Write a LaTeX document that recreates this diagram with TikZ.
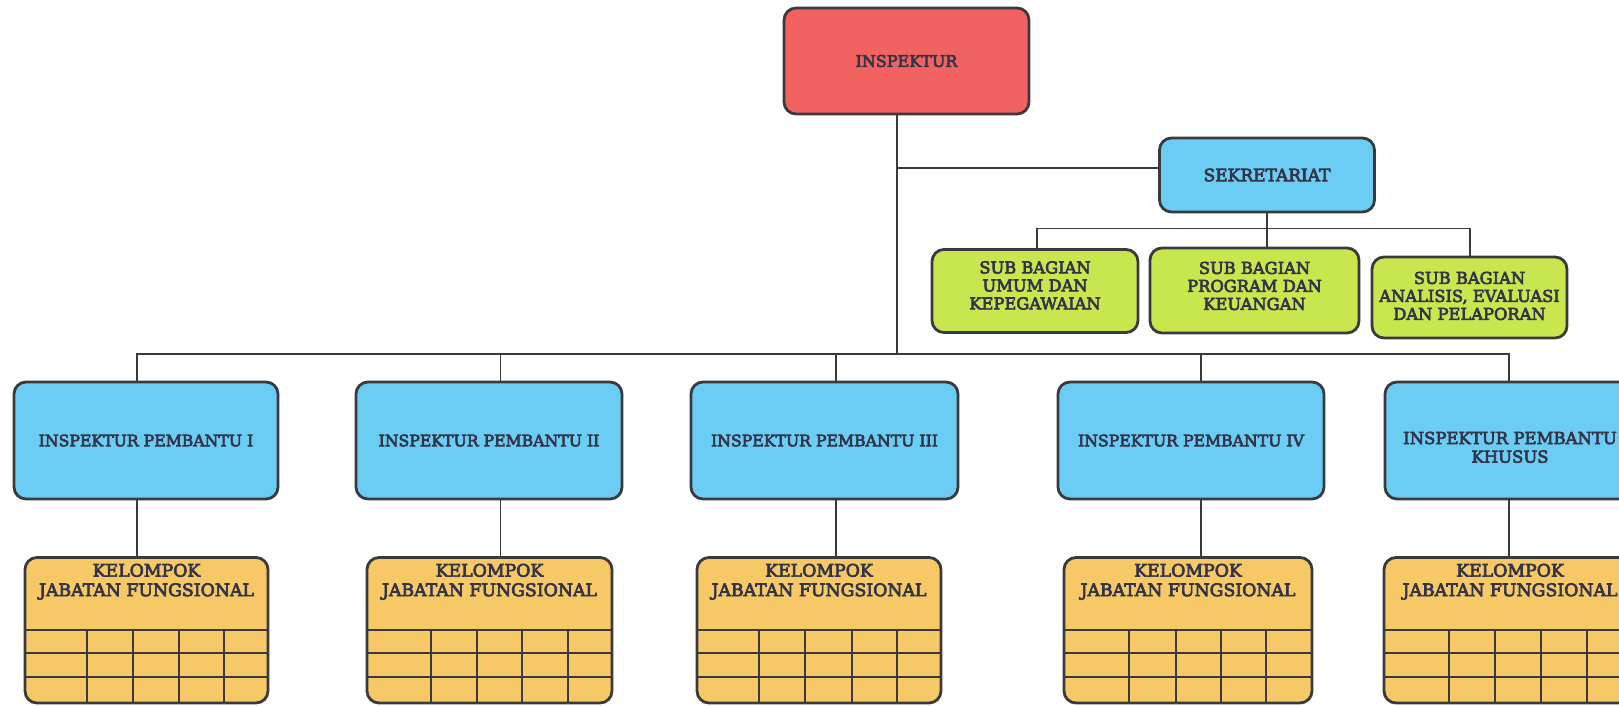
\documentclass[tikz,border=0pt]{standalone}
\usepackage{fontspec}
\setmainfont{DejaVu Serif}[FakeBold=4]
\definecolor{redbox}{RGB}{242,98,96}
\definecolor{bluebox}{RGB}{108,205,244}
\definecolor{greenbox}{RGB}{200,230,78}
\definecolor{orbox}{RGB}{246,201,102}
\definecolor{linec}{RGB}{58,58,62}
\definecolor{textc}{RGB}{52,52,72}
\newcommand\boxfont{\fontsize{16}{19}\selectfont}
\newcommand\gfont{\fontsize{16.3}{18}\selectfont}
\newcommand\pfont{\fontsize{15.7}{19}\selectfont}
\newcommand\sekfont{\fontsize{17}{20}\selectfont}
\newcommand\kfont{\fontsize{16.5}{18.6}\selectfont}
\newcommand\kgfont{\fontsize{17.3}{19.5}\selectfont}
\newcommand\mline[2]{\raisebox{#1}[0pt][0pt]{\begin{tabular}{@{}c@{}}#2\end{tabular}}}
\tikzset{
  box/.style={draw=linec, line width=2.8pt, rounded corners=12pt, text=textc,
    align=center, font=\boxfont, inner sep=0pt},
  redb/.style={box, fill=redbox},
  blueb/.style={box, fill=bluebox, font=\pfont, minimum height=117pt},
  greenb/.style={box, fill=greenbox, font=\gfont},
  orb/.style={box, fill=orbox, minimum height=145.5pt},
  ktxt/.style={text=textc, align=center, font=\kgfont, inner sep=0pt, anchor=north, yshift=-7.5pt},
  conn/.style={draw=linec, line width=1.6pt},
  gridl/.style={draw=linec, line width=2.8pt},
}
\begin{document}
\begin{tikzpicture}[x=1pt,y=-1pt]
\useasboundingbox (0,0) rectangle (1619,705);
\fill[white] (0,0) rectangle (1619,705);
\clip (0,0) rectangle (1619,705);

% top
\node[redb, minimum width=245pt, minimum height=106pt] (insp) at (906.5,61) {INSPEKTUR};
\node[blueb, font=\sekfont, minimum width=215pt, minimum height=74pt] (sek) at (1267,175) {SEKRETARIAT};

% green
\node[greenb, minimum width=206pt, minimum height=83pt] (g1) at (1035,291) {\mline{-1.1pt}{SUB BAGIAN\\UMUM DAN\\KEPEGAWAIAN}};
\node[greenb, minimum width=209pt, minimum height=85pt] (g2) at (1254.5,290.5) {\mline{-2.1pt}{SUB BAGIAN\\PROGRAM DAN\\KEUANGAN}};
\node[greenb, minimum width=195pt, minimum height=81pt] (g3) at (1469.5,297.5) {\mline{-5.1pt}{SUB BAGIAN\\ANALISIS, EVALUASI\\DAN PELAPORAN}};

% inspektur pembantu
\node[blueb, minimum width=264pt] (p1) at (146,440.5) {INSPEKTUR PEMBANTU I};
\node[blueb, minimum width=266pt] (p2) at (489,440.5) {INSPEKTUR PEMBANTU II};
\node[blueb, minimum width=267pt] (p3) at (824.5,440.5) {INSPEKTUR PEMBANTU III};
\node[blueb, minimum width=266pt] (p4) at (1191,440.5) {INSPEKTUR PEMBANTU IV};
\node[blueb, minimum width=250pt, font=\kfont] (p5) at (1510,440.5) {\mline{-13.4pt}{INSPEKTUR PEMBANTU\\KHUSUS}};

% kelompok
\node[orb, minimum width=243pt] (k1) at (146.5,630.25) {};
\node[orb, minimum width=245pt] (k2) at (489.5,630.25) {};
\node[orb, minimum width=244pt] (k3) at (819,630.25) {};
\node[orb, minimum width=248pt] (k4) at (1188,630.25) {};
\node[orb, minimum width=252pt] (k5) at (1510,630.25) {};

\foreach \k/\a/\b/\c/\d in {k1/87/133/179/224, k2/431/477/522/568, k3/759/805/852/897, k4/1129/1176/1221/1266, k5/1449/1495/1541/1587}{
  \foreach \yy in {630,653,677}
    \draw[gridl] (\k.west |- 0,\yy) -- (\k.east |- 0,\yy);
  \foreach \xx in {\a,\b,\c,\d}
    \draw[gridl] (\xx,630) -- (\xx,703);
}

\node[ktxt] (k1t) at (k1.north) {KELOMPOK\\JABATAN FUNGSIONAL};
\node[ktxt] (k2t) at (k2.north) {KELOMPOK\\JABATAN FUNGSIONAL};
\node[ktxt] (k3t) at (k3.north) {KELOMPOK\\JABATAN FUNGSIONAL};
\node[ktxt] (k4t) at (k4.north) {KELOMPOK\\JABATAN FUNGSIONAL};
\node[ktxt] (k5t) at (k5.north) {KELOMPOK\\JABATAN FUNGSIONAL};

% connectors
\coordinate (tr) at (897,354);
\coordinate (sj) at (897,168);
\coordinate (sb) at (1267,228.5);
\coordinate (a1) at (1037,228.5);
\coordinate (a3) at (1470,228.5);
\coordinate (b1) at (137,354);
\coordinate (b2) at (500.5,354);
\coordinate (b3) at (836,354);
\coordinate (b4) at (1201,354);
\coordinate (b5) at (1509,354);

\draw[conn] (tr |- insp.south) -- (tr);
\draw[conn] (sj) -- (sj -| sek.west);
\draw[conn] (sek.south) -- (sb |- g2.north);
\draw[conn] (a1 |- g1.north) -- (a1) -- (a3) -- (a3 |- g3.north);
\draw[conn] (b1 |- p1.north) -- (b1) -- (b5) -- (b5 |- p5.north);
\draw[conn] (b2) -- (b2 |- p2.north);
\draw[conn] (b3) -- (b3 |- p3.north);
\draw[conn] (b4) -- (b4 |- p4.north);
\draw[conn] (b1 |- p1.south) -- (b1 |- k1.north);
\draw[conn] (b2 |- p2.south) -- (b2 |- k2.north);
\draw[conn] (b3 |- p3.south) -- (b3 |- k3.north);
\draw[conn] (b4 |- p4.south) -- (b4 |- k4.north);
\draw[conn] (b5 |- p5.south) -- (b5 |- k5.north);
\end{tikzpicture}
\end{document}
